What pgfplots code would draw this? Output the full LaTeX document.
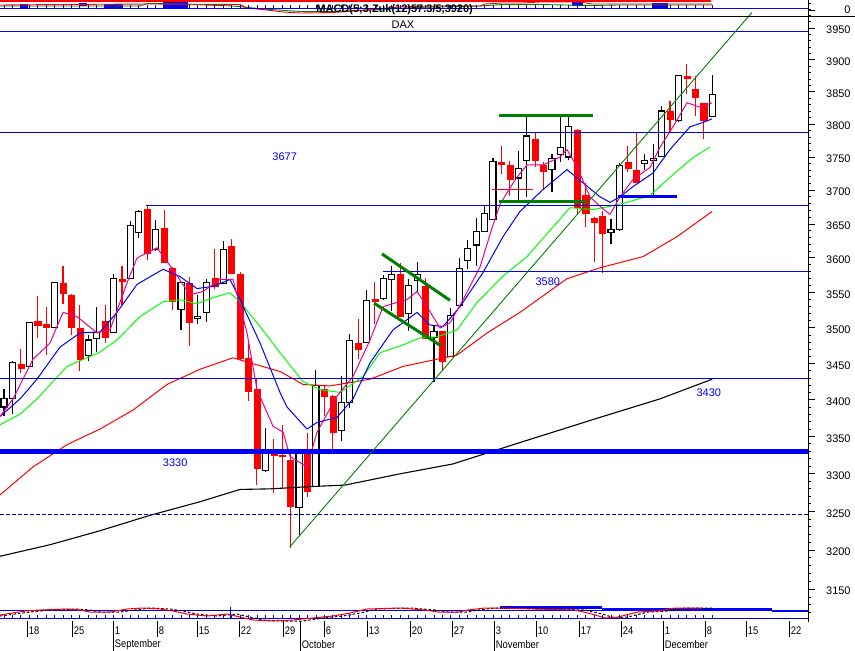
\documentclass[border=0pt]{standalone}
\usepackage{pgfplots}
\pgfplotsset{compat=1.18}
\usepackage{pgfplotstable}
\usepackage{fontspec}
\setmainfont{Liberation Sans}
\newfontfamily\datefont{Liberation Sans}[FakeStretch=0.85]
\definecolor{dgreen}{RGB}{0,128,0}
\definecolor{lgreen}{RGB}{0,255,0}
\definecolor{navy}{RGB}{0,0,160}
\newcommand\lab{\fontsize{5.5}{6.5}\selectfont}

% daily candles: index, open, high, low, close
\pgfplotstableread{
d o h l c
0 3390 3415 3378 3401
1 3401 3453 3380 3452
2 3449 3471 3437 3444
3 3446 3508 3445 3507
4 3510 3545 3486 3504
5 3506 3529 3462 3501
6 3501 3565 3499 3564
7 3563 3588 3534 3549
8 3547 3548 3490 3501
9 3499 3532 3440 3456
10 3462 3490 3453 3483
11 3485 3530 3466 3493
12 3509 3532 3479 3487
13 3493 3577 3492 3571
14 3570 3589 3532 3567
15 3570 3655 3569 3647
16 3638 3671 3629 3668
17 3671 3677 3597 3607
18 3613 3656 3611 3641
19 3644 3670 3593 3594
20 3586 3587 3525 3538
21 3526 3566 3497 3565
22 3564 3573 3474 3508
23 3513 3546 3506 3516
24 3522 3569 3508 3564
25 3571 3613 3555 3560
26 3563 3624 3562 3612
27 3617 3628 3577 3578
28 3577 3580 3455 3457
29 3458 3483 3398 3411
30 3414 3428 3285 3308
31 3304 3361 3302 3327
32 3327 3346 3275 3325
33 3325 3366 3280 3323
34 3318 3330 3203 3257
35 3256 3328 3218 3327
36 3327 3355 3269 3277
37 3283 3441 3282 3420
38 3414 3419 3378 3405
39 3405 3406 3332 3356
40 3358 3433 3344 3396
41 3396 3491 3389 3482
42 3478 3512 3457 3470
43 3480 3554 3479 3539
44 3541 3566 3505 3538
45 3542 3575 3540 3570
46 3569 3588 3524 3577
47 3576 3593 3515 3516
48 3520 3569 3496 3560
49 3567 3594 3549 3577
50 3560 3571 3484 3485
51 3486 3503 3424 3495
52 3495 3496 3440 3454
53 3460 3528 3459 3517
54 3531 3600 3530 3585
55 3596 3626 3584 3614
56 3619 3659 3588 3639
57 3639 3676 3638 3665
58 3657 3748 3656 3743
59 3742 3767 3724 3739
60 3737 3744 3691 3717
61 3718 3758 3686 3733
62 3744 3812 3690 3782
63 3777 3788 3735 3745
64 3738 3743 3701 3728
65 3731 3754 3697 3748
66 3754 3812 3743 3764
67 3750 3812 3745 3796
68 3791 3792 3664 3674
69 3692 3711 3646 3666
70 3659 3660 3594 3652
71 3662 3669 3578 3637
72 3637 3657 3620 3642
73 3642 3741 3640 3737
74 3742 3767 3727 3733
75 3729 3786 3711 3712
76 3740 3754 3730 3744
77 3745 3769 3691 3747
78 3751 3827 3750 3820
79 3820 3836 3788 3808
80 3805 3876 3803 3875
81 3874 3894 3847 3871
82 3854 3874 3813 3841
83 3832 3833 3777 3805
84 3812 3876 3811 3845
}\ohlc

\pgfplotstableread{
d p
-0.47 3377
1.07 3401
3.44 3456
5.46 3479
7.0 3522
8.66 3516
11.03 3493
12.57 3497
14.59 3564
15.78 3600
18.15 3615
20.05 3583
22.06 3547
23.61 3552
25.62 3569
27.16 3569
28.83 3493
30.01 3414
31.91 3364
33.1 3356
33.93 3323
35.94 3309
37.13 3356
39.5 3405
41.4 3432
43.42 3483
44.96 3530
46.62 3536
47.8 3540
48.99 3552
50.18 3530
51.72 3500
52.91 3507
54.45 3540
56.47 3587
57.89 3644
58.84 3679
59.9 3701
60.85 3719
62.04 3738
63.94 3738
65.95 3750
66.78 3761
67.97 3735
69.51 3690
70.7 3676
71.89 3664
73.07 3690
74.61 3716
76.63 3734
77.82 3765
79.36 3796
81.02 3833
82.56 3826
83.99 3833
}\mafive

\pgfplotstableread{
d p
-0.47 3377
1.9 3401
3.91 3428
6.64 3473
9.02 3493
11.39 3494
13.4 3522
15.78 3562
18.86 3584
20.88 3573
22.89 3556
24.79 3559
26.81 3569
28.0 3540
30.37 3479
32.74 3410
33.57 3390
35.94 3360
37.13 3369
39.5 3376
41.4 3401
43.42 3451
46.14 3497
48.99 3522
50.53 3504
52.08 3502
54.09 3530
56.82 3579
59.19 3631
61.2 3668
63.94 3701
66.78 3731
68.68 3711
70.7 3690
71.89 3682
73.07 3690
74.61 3705
76.99 3726
79.0 3761
81.38 3796
82.92 3802
83.99 3808
}\maten

\pgfplotstableread{
d p
-0.47 3366
1.9 3380
3.91 3401
7.47 3446
11.39 3466
13.4 3483
16.13 3516
18.86 3537
20.88 3540
22.89 3534
24.79 3543
26.81 3550
28.0 3537
30.37 3502
32.74 3465
35.47 3425
37.49 3414
39.86 3410
42.59 3432
44.6 3465
47.33 3476
49.35 3486
51.36 3487
53.74 3497
56.11 3536
59.19 3574
62.04 3602
67.14 3674
69.87 3671
71.89 3676
73.9 3682
76.63 3692
79.0 3719
81.73 3749
83.75 3765
}\matwenty

\pgfplotstableread{
d p
-0.47 3272
3.44 3309
7.47 3339
11.39 3360
15.3 3386
19.34 3421
23.25 3442
27.16 3458
29.18 3451
32.74 3439
35.47 3421
38.67 3419
43.42 3428
47.33 3446
51.36 3456
53.74 3462
57.3 3493
61.2 3522
66.78 3570
70.7 3586
75.8 3602
79.83 3631
83.99 3668
}\mafifty

\pgfplotstableread{
d p
-0.47 3192
5.46 3207
11.39 3225
17.32 3245
23.25 3263
28.0 3279
31.55 3280
36.3 3283
40.45 3285
46.98 3300
53.26 3313
61.2 3342
70.7 3376
77.8 3401
84.0 3428
}\matwohundred

\begin{document}
\begin{tikzpicture}[x=0.5pt,y=0.5pt]
\useasboundingbox (0,0) rectangle (855,-651);

% ---------------- price panel (log scale) ----------------
\begin{axis}[
  at={(0,0)}, anchor=north west,
  scale only axis, width=404pt, height=310pt,
  xmin=-0.475, xmax=95.37,
  ymode=log, ymin=3111.4, ymax=3995.6,
  axis x line=none, axis y line*=right,
  ytick={3150,3200,...,3950}, yticklabels={},
  minor ytick={3120,3130,...,3990},
  tick align=outside, major tick length=3.5pt, minor tick length=1.5pt,
  tick style={black, line width=0.45pt},
  axis line style={black, line width=0.5pt},
  clip mode=individual,
]
% candles
\pgfplotsforeachungrouped \i in {0,...,84}{%
  \pgfplotstablegetelem{\i}{d}\of\ohlc \let\D=\pgfplotsretval
  \pgfplotstablegetelem{\i}{o}\of\ohlc \let\O=\pgfplotsretval
  \pgfplotstablegetelem{\i}{h}\of\ohlc \let\H=\pgfplotsretval
  \pgfplotstablegetelem{\i}{l}\of\ohlc \let\L=\pgfplotsretval
  \pgfplotstablegetelem{\i}{c}\of\ohlc \let\C=\pgfplotsretval
  \pgfmathsetmacro\xa{\D-0.36}%
  \pgfmathsetmacro\xb{\D+0.36}%
  \pgfmathtruncatemacro\isdown{\C<\O}%
  \ifnum\isdown=1
    \edef\cmd{\noexpand\addplot[red, line width=0.55pt] coordinates {(\D,\L) (\D,\H)};%
      \noexpand\addplot[fill=red, draw=red, line width=0.2pt] coordinates {(\xa,\O) (\xb,\O) (\xb,\C) (\xa,\C)} -- cycle;}%
  \else
    \edef\cmd{\noexpand\addplot[black, line width=0.55pt] coordinates {(\D,\L) (\D,\H)};%
      \noexpand\addplot[fill=white, draw=black, line width=0.55pt] coordinates {(\xa,\O) (\xb,\O) (\xb,\C) (\xa,\C)} -- cycle;}%
  \fi
  \cmd
}
% red cross line
\addplot[red, line width=0.5pt] coordinates {(57.9,3701) (62.75,3701)};
% moving averages
\addplot[black, line width=0.55pt] table[x=d,y=p]{\matwohundred};
\addplot[red, line width=0.5pt] table[x=d,y=p]{\mafifty};
\addplot[lgreen, line width=0.5pt] table[x=d,y=p]{\matwenty};
\addplot[blue, line width=0.5pt] table[x=d,y=p]{\maten};
\addplot[magenta, line width=0.5pt] table[x=d,y=p]{\mafive};
% horizontal levels
\addplot[blue, line width=0.5pt] coordinates {(-0.475,3944) (95.37,3944)};
\addplot[blue, line width=0.5pt] coordinates {(-0.475,3787) (95.37,3787)};
\addplot[blue, line width=0.5pt] coordinates {(16.84,3677) (95.37,3677)};
\addplot[blue, line width=0.5pt] coordinates {(44.96,3580) (95.37,3580)};
\addplot[blue, line width=0.5pt] coordinates {(-0.475,3430) (95.37,3430)};
\addplot[blue, line width=2.5pt] coordinates {(-0.475,3330) (95.37,3330)};
\addplot[navy, line width=0.5pt, dash pattern=on 1.75pt off 1.25pt] coordinates {(-0.475,3246) (95.37,3246)};
% trend line and patterns
\addplot[dgreen, line width=0.45pt] coordinates {(33.9,3204) (88.7,3975)};
\addplot[dgreen, line width=1.5pt] coordinates {(44.84,3606) (52.9,3539)};
\addplot[dgreen, line width=1.5pt] coordinates {(43.9,3535) (51.8,3475)};
\addplot[dgreen, line width=1.5pt] coordinates {(58.7,3813) (69.9,3813)};
\addplot[dgreen, line width=1.5pt] coordinates {(58.7,3683) (68.9,3683)};
\addplot[blue, line width=1.5pt] coordinates {(72.8,3691) (79.8,3691)};
% level labels
\node[blue, font=\lab] at (axis cs:33.3,3750) {3677};
\node[blue, font=\lab] at (axis cs:64.5,3565) {3580};
\node[blue, font=\lab] at (axis cs:83.6,3410) {3430};
\node[blue, font=\lab] at (axis cs:20.3,3315) {3330};
% right tick labels
\pgfplotsinvokeforeach{3150,3200,...,3950}{%
  \node[anchor=east, inner sep=0pt, font=\lab] at ([xshift=21.5pt,yshift=-1pt]axis cs:95.37,#1) {#1};}
\end{axis}

% ---------------- indicator panels (pixel units) ----------------
\begin{axis}[
  at={(0,0)}, anchor=north west,
  scale only axis, width=404pt, height=310pt,
  xmin=0, xmax=808, ymin=0, ymax=620, y dir=reverse,
  hide axis, clip=false,
]
% top panel
\addplot[red, line width=1pt] coordinates {(0,1) (711,1)};
\addplot[blue, fill=blue, draw=none] coordinates {(20,4) (28,4) (28,8) (20,8)} -- cycle;
\addplot[blue, fill=blue, draw=none] coordinates {(79,3) (87,3) (87,6) (79,6)} -- cycle;
\addplot[blue, fill=blue, draw=none] coordinates {(104,4) (122,4) (122,8) (104,8)} -- cycle;
\addplot[blue, fill=blue, draw=none] coordinates {(163,2) (188,2) (188,8) (163,8)} -- cycle;
\addplot[blue, fill=blue, draw=none] coordinates {(572,2) (583,2) (583,6) (572,6)} -- cycle;
\addplot[blue, fill=blue, draw=none] coordinates {(652,3) (668,3) (668,8) (652,8)} -- cycle;
\addplot[dgreen, line width=0.45pt] coordinates {(0,6) (140,6) (147,3.5) (163,3.5) (233,6) (263,9) (300,11.5) (333,11.5) (367,10) (430,7) (480,6) (502,4.5) (540,4.5) (592,5.5) (618,5) (712,5)};
\addplot[red, line width=0.45pt] coordinates {(0,5) (60,4.5) (150,4) (240,4.5) (247,8) (267,10) (283,12) (300,13) (333,12.5) (367,10) (400,7) (430,6) (480,6) (485,4) (502,3) (522,3) (540,2) (580,2) (592,4) (618,4) (712,4)};
\addplot[blue, line width=0.5pt] coordinates {(0,8) (808,8)};
\pgfplotsinvokeforeach{0,...,84}{%
  \pgfmathsetmacro\tx{4+8.43*#1}%
  \edef\cmd{\noexpand\draw[blue, line width=0.4pt] (axis cs:\tx,8) -- (axis cs:\tx,5);}\cmd}
\addplot[black, line width=0.5pt] coordinates {(0,16) (855,16)};
\draw[black, line width=0.45pt] (axis cs:808,10) -- (axis cs:815,10);
\draw[black, line width=0.45pt] (axis cs:808,3) -- (axis cs:811,3);
\node[font=\lab\bfseries, inner sep=0pt, anchor=west] at (axis cs:316,10) {MACD(5;3,Zuk(12)57.3/5,3920)};
\node[font=\lab] at (axis cs:403,25) {DAX};
\node[anchor=east, inner sep=0pt, font=\lab] at (axis cs:851,10) {0};
% bottom panel
\addplot[blue, line width=0.5pt] coordinates {(0,610) (808,610)};
\addplot[blue, line width=0.5pt] coordinates {(0,618) (808,618)};
\addplot[blue, line width=1.25pt] coordinates {(500,607.5) (602,607.5)};
\addplot[blue, line width=1.25pt] coordinates {(602,609) (772,609)};
\addplot[blue, line width=1.25pt] coordinates {(772,611) (808,611)};
\addplot[black, line width=0.5pt, dash pattern=on 1.25pt off 1pt] coordinates {(0,616) (30,612) (50,610) (75,609) (90,610) (100,612) (120,612) (135,610) (150,608) (170,609) (183,611) (197,614) (217,616) (237,614) (250,617) (263,620) (283,621) (303,621) (323,618) (343,616) (360,613) (377,609) (410,608) (435,610) (448,612) (468,612) (478,610) (495,608) (512,608) (545,609) (585,610) (602,614) (615,618) (628,617) (648,612) (668,611) (685,608) (700,608) (712,608)};
\addplot[red, line width=0.5pt] coordinates {(0,615) (25,611) (40,610) (67,609) (80,610) (90,612) (110,612) (127,609) (143,608) (160,609) (173,611) (187,614) (207,616) (227,614) (240,617) (253,620) (273,621) (293,620) (313,618) (333,616) (350,613) (367,609) (400,608) (425,610) (438,612) (458,612) (468,610) (485,608) (502,608) (535,609) (575,610) (592,614) (605,618) (618,617) (638,612) (658,611) (675,608) (692,608) (702,608)};
\pgfplotsinvokeforeach{0,...,84}{%
  \pgfmathsetmacro\tx{4+8.43*#1}%
  \edef\cmd{\noexpand\draw[blue, line width=0.4pt] (axis cs:\tx,618) -- (axis cs:\tx,615);}\cmd}
\draw[blue, line width=0.4pt] (axis cs:230,607) -- (axis cs:230,618);
\draw[black, line width=0.5pt] (axis cs:808,0) -- (axis cs:808,622);
\end{axis}

% ---------------- date axis ----------------
\foreach \sx/\dl in {27/18,72/25,113/1,157/8,197/15,239/22,283/29,324/6,367/13,410/20,452/27,494/3,536/10,579/17,621/24,663/1,705/8,746/15,789/22}{%
  \draw[black, line width=0.4pt] (\sx,-621) -- (\sx,-637);
  \node[anchor=west, inner sep=0pt, font=\datefont\lab] at (\sx+1.5,-631) {\dl};
}
\foreach \sx/\ml in {113/September,300/October,494/November,663/December}{%
  \draw[black, line width=0.4pt] (\sx,-621) -- (\sx,-651);
  \node[anchor=west, inner sep=0pt, font=\datefont\lab] at (\sx+1.5,-645) {\ml};
}
\end{tikzpicture}
\end{document}
